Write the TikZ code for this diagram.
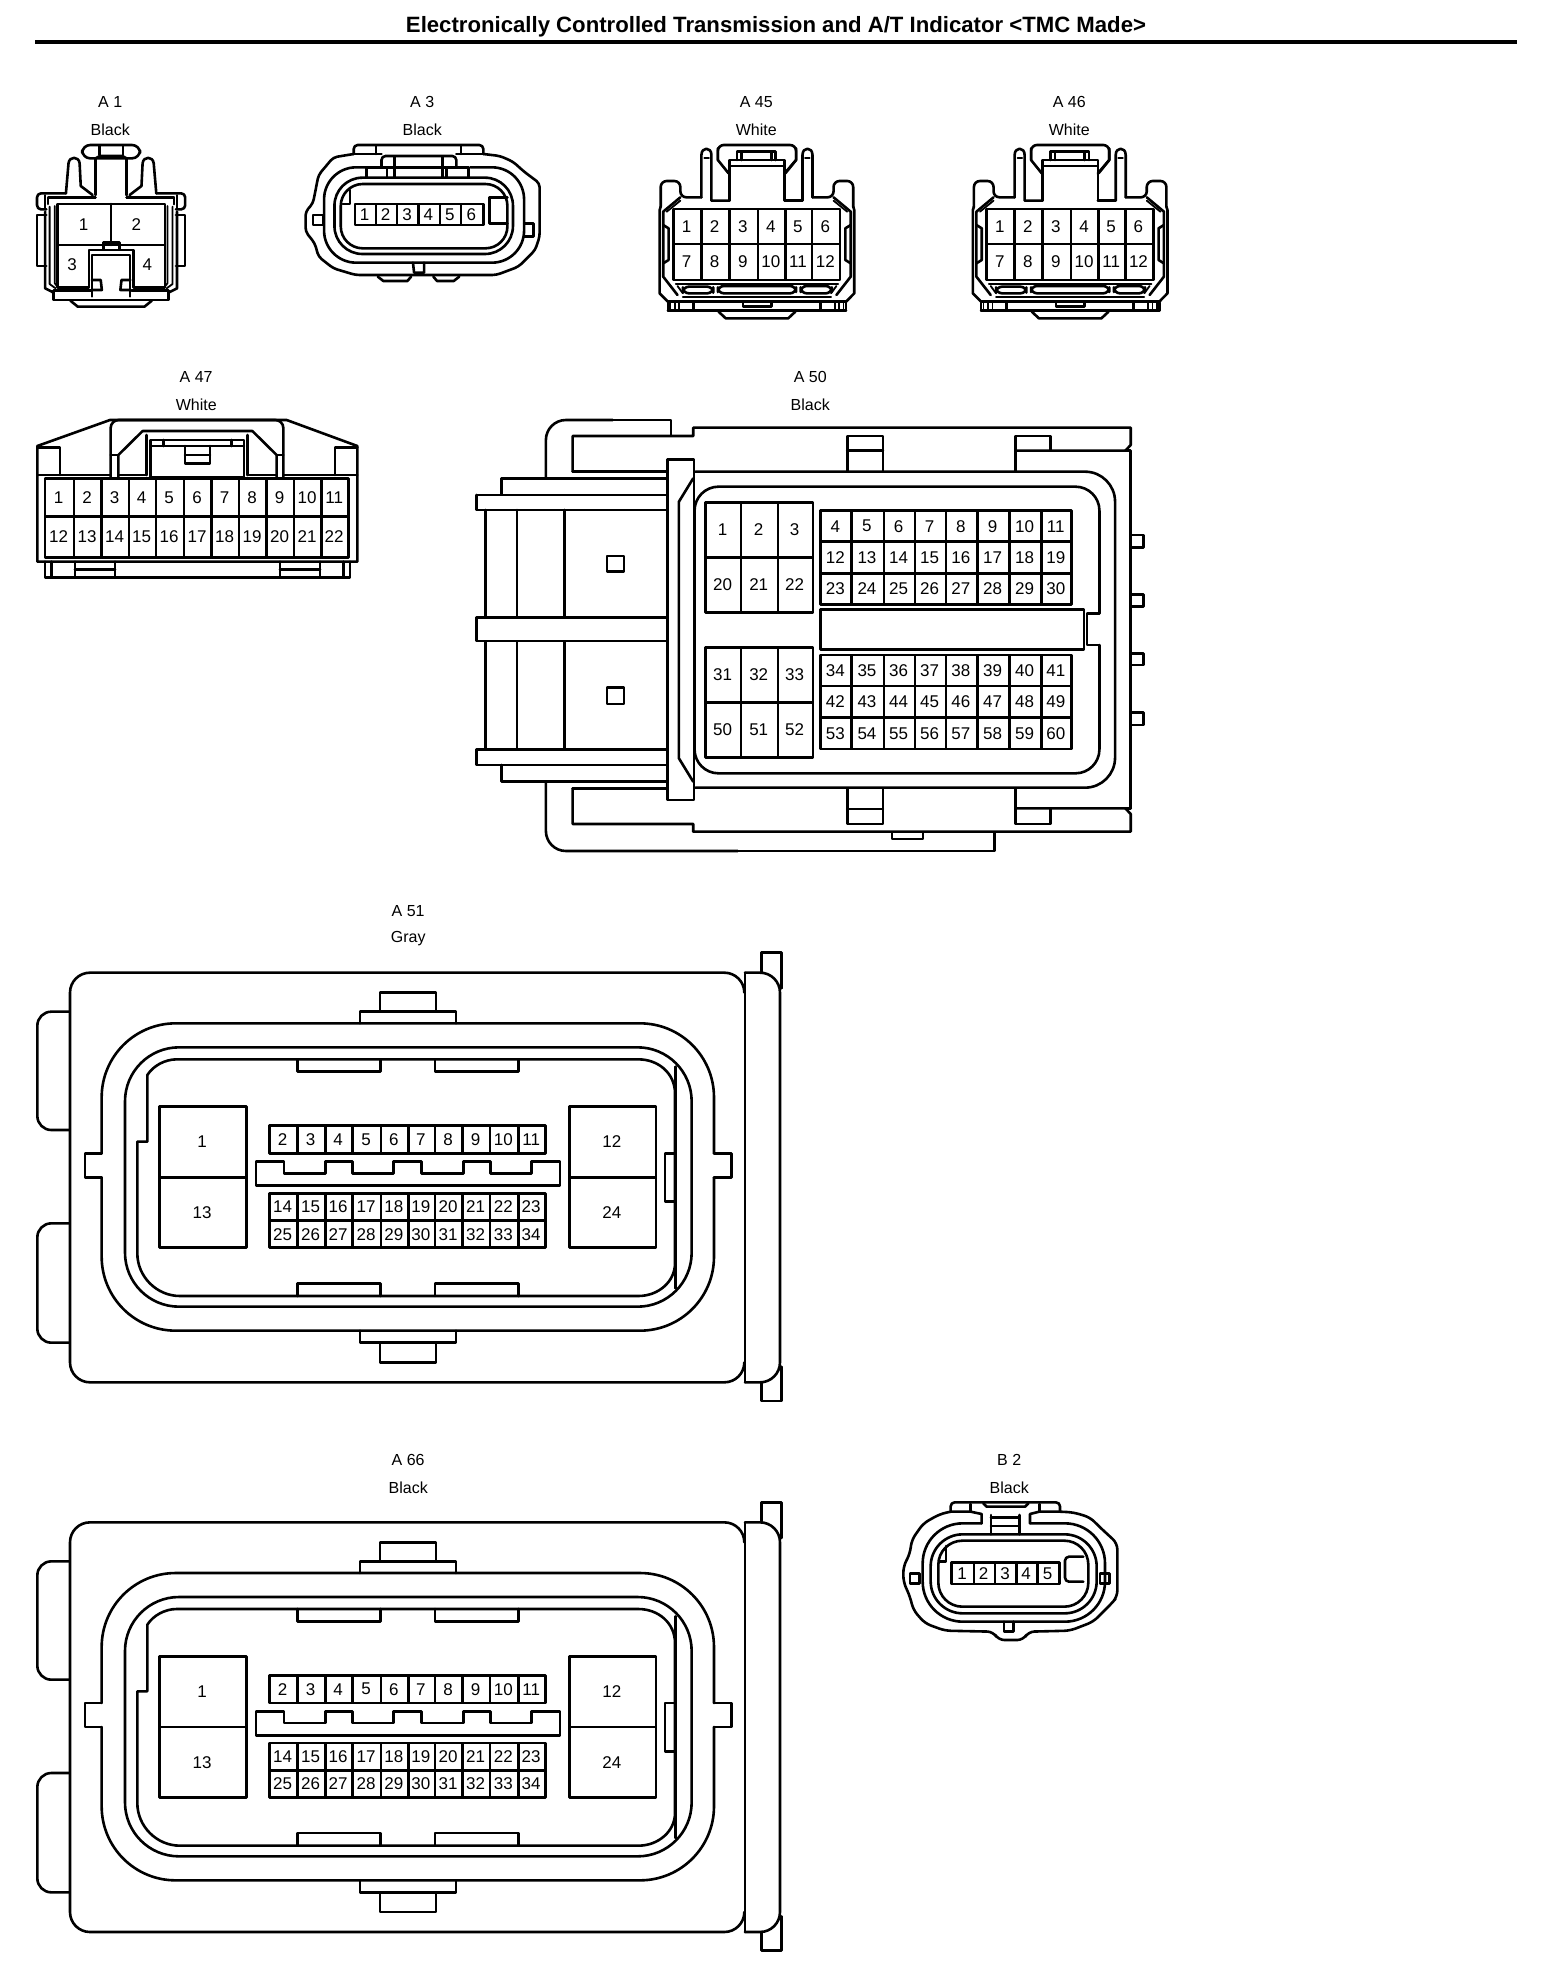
\documentclass[tikz,border=0pt]{standalone}
\usepackage{fontspec}
\setmainfont{Liberation Sans}
\newcommand\pinfont{\fontsize{8.5pt}{9pt}\selectfont}
\newcommand\labfont{\fontsize{8pt}{9pt}\selectfont}
\tikzset{
  ln/.style={line width=1.3pt,line cap=round,line join=round},
  thinln/.style={line width=0.9pt,line cap=round,line join=round},
  tn/.style={font=\pinfont,inner sep=0pt,xshift=-0.4pt},
  lab/.style={font=\labfont,inner sep=0pt,xshift=-0.4pt},
  titlelab/.style={font=\fontsize{11.08pt}{12pt}\selectfont\bfseries,inner sep=0pt}
}
% one row of pin cells: y1,y2,first x, list of right-edge/label
\newcommand\gridrow[4]{%
  \foreach \b/\t [remember=\b as \a (initially #3)] in {#4}{%
    \draw[ln] (\a,#1) rectangle (\b,#2);
    \node[tn] (\cn-\t) at ({(\a+\b)/2},{(#1+#2)/2}) {\t};
  }}
\newcommand\conlabel[5]{%
  \node[lab] (#1-name) at (#2,#3) {#4};
  \node[lab] (#1-color) at (#2,#3+27.7) {#5};}
% ---------- A1 half ----------
\newcommand\halfAone{%
  \draw[ln] (178,340)--(185,250) .. controls (187,228) and (213,228) .. (215,250)--(218,318)--(250,345);
  \draw[ln,rounded corners=2pt] (178,340)--(100,340)--(100,388)--(125,388);
  \draw[thinln] (122,345)--(122,388);
  \draw[ln] (258,352)--(130,352)--(130,372);
  \draw[ln] (258,345)--(258,235);
  \draw[ln] (125,405)--(100,405)--(100,558)--(125,558);
  \draw[ln] (122,395)--(122,625)--(145,638);
  \draw[thinln] (134,380)--(134,612)--(150,625);
  \draw[thinln] (148,378)--(148,610)--(155,620);
}
% ---------- A45 half ----------
\newcommand\halfAfortyfive{%
  \draw[ln] (172,352)--(172,225) .. controls (172,200) and (200,200) .. (200,225)--(200,362)--(250,362);
  \draw[thinln] (180,235)--(193,235);
  \draw[ln] (218,205)--(218,240)--(248,280);
  \draw[ln,rounded corners=3pt] (172,352)--(113,352)--(113,303)--(58,303)--(58,380);
  \draw[ln] (113,352)--(65,395)--(65,590)--(105,645);
  \draw[thinln] (113,362)--(75,395);
  \draw[ln] (58,380)--(55,390)--(55,640)--(78,665);
  \draw[ln] (65,435)--(80,445)--(80,540)--(65,550);
  \draw[thinln] (85,668)--(85,692);
  \draw[thinln] (97,668)--(97,692);
  \draw[thinln] (110,668)--(110,692);
  \draw[ln] (150,668)--(150,692);
  \draw[ln] (78,668)--(78,692);
  \draw[thinln] (105,618)--(120,640);
}
\newcommand\connAfortyfive{%
  \halfAfortyfive
  \begin{scope}[shift={(655,0)},xscale=-1]\halfAfortyfive\end{scope}
  \draw[ln,rounded corners=3pt] (218,240)--(218,195)--(437,195)--(437,240);
  \draw[ln] (437,240)--(405,280);
  \draw[ln] (250,362)--(250,240)--(405,240)--(405,362)--(455,362);
  \draw[ln] (250,258)--(405,258);
  \draw[ln] (272,240)--(272,215)--(380,215)--(380,240);
  \draw[ln] (285,215)--(285,240);
  \draw[ln] (368,215)--(368,240);
  \draw[ln] (78,665)--(577,665);
  \draw[ln] (78,692)--(577,692);
  \draw[ln] (288,668)--(288,680)--(368,680)--(368,668);
  \draw[ln] (220,695)--(240,715)--(415,715)--(435,695);
  \draw[thinln] (100,612)--(555,612);
  \draw[thinln] (120,650)--(535,650);
  \draw[ln,rounded corners=3pt] (120,620) rectangle (205,640);
  \draw[ln,rounded corners=3pt] (218,618) rectangle (437,640);
  \draw[ln,rounded corners=3pt] (450,618) rectangle (537,640);
  \gridrow{387}{492}{93}{172/1,250/2,330/3,407/4,482/5,560/6}
  \gridrow{492}{600}{93}{172/7,250/8,330/9,407/10,482/11,560/12}
}
% ---------- A51 / A66 ----------
\newcommand\connAfiftyone{%
  % body and end cap
  \draw[ln,rounded corners=10pt] (2173,270)--(2173,218)--(150,218)--(150,1447)--(2173,1447)--(2173,1395);
  \draw[ln] (2175,218)--(2175,1447);
  \draw[ln,rounded corners=10pt] (2175,218)--(2280,218)--(2280,1447)--(2175,1447);
  \draw[ln] (2225,215)--(2225,158)--(2285,158)--(2285,265);
  \draw[ln] (2225,1447)--(2225,1503)--(2285,1503)--(2285,1400);
  % side lugs
  \draw[ln,rounded corners=7pt] (148,335)--(52,335)--(52,690)--(148,690);
  \draw[ln,rounded corners=7pt] (148,970)--(52,970)--(52,1328)--(148,1328);
  % ring 1
  \draw[ln,rounded corners=37pt] (245,760)--(245,370)--(2082,370)--(2082,760);
  \draw[ln,rounded corners=37pt] (245,832)--(245,1292)--(2082,1292)--(2082,832);
  \draw[ln] (245,760)--(195,760)--(195,832)--(245,832);
  \draw[ln] (2082,760)--(2135,760)--(2135,832)--(2082,832);
  % ring 2
  \draw[ln,rounded corners=27pt] (315,442) rectangle (2015,1220);
  % ring 3 (cavity)
  \draw[ln] (382,725)--(382,525) .. controls (400,497) and (435,478) .. (470,478)--(1855,478) .. controls (1915,478) and (1965,520) .. (1965,580)--(1965,1090) .. controls (1965,1145) and (1915,1188) .. (1855,1188)--(480,1188) .. controls (410,1188) and (352,1130) .. (352,1060)--(352,725)--cycle;
  \draw[ln] (1967,500)--(1967,1165);
  \draw[ln] (1965,760)--(1935,760)--(1935,905)--(1965,905);
  % outer tabs
  \draw[ln] (1020,370)--(1020,335)--(1308,335)--(1308,370);
  \draw[ln] (1080,335)--(1080,278)--(1248,278)--(1248,335);
  \draw[ln] (1020,1292)--(1020,1328)--(1308,1328)--(1308,1292);
  \draw[ln] (1080,1328)--(1080,1387)--(1248,1387)--(1248,1328);
  % cavity tabs
  \draw[ln] (832,478)--(832,515)--(1082,515)--(1082,478);
  \draw[ln] (1245,478)--(1245,515)--(1495,515)--(1495,478);
  \draw[ln] (832,1188)--(832,1150)--(1082,1150)--(1082,1188);
  \draw[ln] (1245,1188)--(1245,1150)--(1495,1150)--(1495,1188);
  % big pins
  \gridrow{620}{832}{418}{680/1}
  \gridrow{832}{1043}{418}{680/13}
  \gridrow{620}{832}{1648}{1908/12}
  \gridrow{832}{1043}{1648}{1908/24}
  % small pins
  \gridrow{677}{760}{748}{832/2,916/3,998/4,1083/5,1165/6,1245/7,1328/8,1410/9,1495/10,1577/11}
  \gridrow{880}{962}{748}{832/14,916/15,998/16,1083/17,1165/18,1245/19,1328/20,1410/21,1495/22,1577/23}
  \gridrow{962}{1043}{748}{832/25,916/26,998/27,1083/28,1165/29,1245/30,1328/31,1410/32,1495/33,1577/34}
  % key strip
  \draw[ln] (708,785)--(792,785)--(792,820)--(916,820)--(916,785)--(998,785)--(998,820)--(1120,820)--(1120,785)--(1205,785)--(1205,820)--(1330,820)--(1330,785)--(1412,785)--(1412,820)--(1535,820)--(1535,785)--(1620,785)--(1620,857)--(708,857)--cycle;
}
\begin{document}
\begin{tikzpicture}[x=0.5pt,y=-0.5pt]
\useasboundingbox (0,0) rectangle (1568,1970);
\node[titlelab] (title) at (776,27) {Electronically Controlled Transmission and A/T Indicator <TMC Made>};
\coordinate (ruleL) at (35,42);
\coordinate (ruleR) at (1517,42);
\draw[line width=2pt] (ruleL)--(ruleR);

\conlabel{A1}{111}{102}{A 1}{Black}
\conlabel{A3}{423}{102}{A 3}{Black}
\conlabel{A45}{757}{102}{A 45}{White}
\conlabel{A46}{1070}{102}{A 46}{White}
\conlabel{A47}{197}{377}{A 47}{White}
\conlabel{A50}{811}{377}{A 50}{Black}
\conlabel{A51}{409}{911}{A 51}{Gray}
\conlabel{A66}{409}{1460}{A 66}{Black}
\conlabel{B2}{1010}{1460}{B 2}{Black}

% ===== A1 =====
\begin{scope}[shift={(0,80)},xscale=1/2.7,yscale=1/3]
\def\cn{A1}
\halfAone
\begin{scope}[shift={(600,0)},xscale=-1]\halfAone\end{scope}
\draw[ln,rounded corners=4pt] (222,195) rectangle (378,235);
\draw[ln] (268,197)--(268,225);
\draw[ln] (332,197)--(332,225);
\draw[ln] (342,352)--(470,352)--(470,372);
\draw[ln] (342,345)--(342,235)--(330,228)--(270,228)--(258,235);
\draw[ln] (155,372) rectangle (445,495);
\draw[ln] (300,372)--(300,495);
\node[tn] (A1-1) at (228,433) {1};
\node[tn] (A1-2) at (370,433) {2};
\draw[ln] (155,495)--(155,622)--(240,622)--(240,510)--(360,510)--(360,622)--(445,622)--(445,495);
\node[tn] (A1-3) at (197,553) {3};
\node[tn] (A1-4) at (400,553) {4};
\draw[ln] (280,487) rectangle (322,510);
\draw[thinln] (248,650)--(248,525)--(352,525)--(352,650);
\draw[ln] (248,600)--(272,600)--(275,630)--(248,630);
\draw[ln] (352,600)--(328,600)--(325,630)--(352,630);
\draw[ln] (145,632)--(145,660)--(455,660)--(455,632);
\draw[ln] (145,632)--(245,632);
\draw[ln] (355,632)--(455,632);
\draw[ln] (190,662)--(210,680)--(390,680)--(410,662);
\end{scope}

% ===== A3 =====
\begin{scope}[shift={(0,80)},xscale=1/2.7,yscale=1/3]
\def\cn{A3}
\draw[ln,rounded corners=2pt] (955,222)--(955,195)--(1305,195)--(1305,222);
\draw[ln] (1015,197)--(1015,222);
\draw[ln] (1245,197)--(1245,222);
\draw[ln,rounded corners=2pt] (955,222)--(900,232)--(860,285)--(845,370)--(825,395)--(825,455)--(850,490)--(860,530)--(900,565)--(960,585)--(1340,585)--(1400,560)--(1445,510)--(1457,470)--(1457,310)--(1415,275)--(1385,245)--(1350,228)--(1305,222);
\draw[ln] (955,222)--(1030,222);
\draw[ln] (1232,222)--(1305,222);
\draw[ln,rounded corners=16pt] (990,262)--(875,262)--(875,548)--(1415,548)--(1415,262)--(1270,262);
\draw[ln,rounded corners=14pt] (903,293) rectangle (1385,522);
\draw[ln,rounded corners=11pt] (920,312) rectangle (1370,505);
\draw[ln,rounded corners=2pt] (1030,262)--(1030,228)--(1232,228)--(1232,262);
\draw[ln] (990,262)--(1265,262);
\draw[ln] (990,262)--(990,293);
\draw[ln] (1265,262)--(1265,293);
\draw[ln] (1045,262)--(1045,293);
\draw[ln] (1205,262)--(1205,293);
\draw[ln] (1065,232)--(1065,293);
\draw[ln] (1195,232)--(1195,293);
\gridrow{372}{435}{958}{1015/1,1072/2,1130/3,1188/4,1245/5,1305/6}
\draw[ln] (1322,352)--(1322,430)--(1370,430);
\draw[ln] (1322,352)--(1370,352);
\draw[ln] (925,372)--(945,372)--(945,330);
\draw[ln] (845,405)--(872,405)--(872,435)--(845,435)--cycle;
\draw[ln] (1415,430)--(1440,430)--(1440,470)--(1415,470);
\draw[ln] (1115,548)--(1118,578)--(1145,578)--(1145,548);
\draw[ln] (1020,590)--(1035,603)--(1100,603)--(1110,590);
\draw[ln] (1170,590)--(1180,603)--(1225,603)--(1240,590);
\end{scope}

% ===== A45 / A46 =====
\begin{scope}[shift={(640,80)},xscale=1/2.8,yscale=1/3]
\def\cn{A45}
\connAfortyfive
\end{scope}
\begin{scope}[shift={(953.2,80)},xscale=1/2.8,yscale=1/3]
\def\cn{A46}
\connAfortyfive
\end{scope}

% ===== A47 =====
\begin{scope}[shift={(20,360)},scale=1/3]
\def\cn{A47}
\draw[ln] (52,258)--(270,180)--(800,180)--(1012,258)--(1012,605)--(52,605)--cycle;
\draw[ln,rounded corners=4pt] (272,352)--(272,180)--(790,180)--(790,352);
\draw[ln] (295,352)--(295,285)--(368,213)--(697,213)--(770,285)--(770,352);
\draw[ln] (272,285)--(295,285);
\draw[ln] (770,285)--(790,285);
\draw[ln] (380,225)--(380,345);
\draw[ln] (682,225)--(682,345);
\draw[ln] (392,240) rectangle (672,352);
\draw[ln] (392,258)--(672,258);
\draw[ln] (430,240)--(430,258);
\draw[ln] (635,240)--(635,258);
\draw[ln] (495,258)--(495,310)--(570,310)--(570,258);
\draw[ln] (495,285)--(570,285);
\draw[ln] (52,345)--(272,345);
\draw[ln] (295,345)--(380,345);
\draw[ln] (682,345)--(770,345);
\draw[ln] (790,345)--(1012,345);
\draw[ln] (52,262)--(120,262)--(120,345);
\draw[ln] (1012,262)--(945,262)--(945,345);
\gridrow{355}{470}{75}{162/1,245/2,327/3,408/4,492/5,575/6,657/7,740/8,822/9,905/10,985/11}
\gridrow{470}{592}{75}{162/12,245/13,327/14,408/15,492/16,575/17,657/18,740/19,822/20,905/21,985/22}
\draw[ln] (75,605)--(75,652)--(990,652)--(990,605);
\draw[ln] (95,605)--(95,652);
\draw[ln] (970,605)--(970,652);
\draw[ln] (165,605)--(165,652);
\draw[ln] (285,605)--(285,652);
\draw[ln] (165,628)--(285,628);
\draw[ln] (780,605)--(780,652);
\draw[ln] (900,605)--(900,652);
\draw[ln] (780,628)--(900,628);
\end{scope}

% ===== A50 =====
\begin{scope}[shift={(470,360)},xscale=1/2.24,yscale=1/3]
\def\cn{A50}
\draw[ln,rounded corners=10pt] (170,352)--(170,180)--(320,180);
\draw[ln] (320,180)--(450,180)--(450,225);
\draw[ln] (230,335)--(230,228)--(500,228)--(500,203)--(1480,203)--(1480,255)--(1468,272)--(1222,272);
\draw[ln] (1468,272)--(1480,272)--(1480,1345);
\draw[ln] (845,332)--(845,228)--(925,228)--(925,332);
\draw[ln] (845,272)--(925,272);
\draw[ln] (1222,332)--(1222,228)--(1300,228)--(1300,272);
% bottom
\draw[ln,rounded corners=10pt] (170,1268)--(170,1473)--(600,1473);
\draw[ln] (600,1473)--(1175,1473)--(1175,1417);
\draw[ln] (230,1285)--(230,1392)--(500,1392)--(500,1415)--(1480,1415)--(1480,1362)--(1468,1345)--(1222,1345);
\draw[ln] (1468,1345)--(1480,1345);
\draw[ln] (845,1287)--(845,1392)--(925,1392)--(925,1287);
\draw[ln] (845,1347)--(925,1347);
\draw[ln] (1222,1287)--(1222,1392)--(1300,1392)--(1300,1347);
\draw[ln] (945,1417)--(945,1437)--(1015,1437)--(1015,1417);
% main housing
\draw[ln,rounded corners=15pt] (505,335)--(1445,335)--(1445,1283)--(505,1283);
\draw[ln] (500,355)--(468,425)--(468,1195)--(500,1265);
\draw[ln] (442,298) rectangle (502,1320);
% left arms
\draw[ln] (70,402)--(70,355)--(440,355);
\draw[ln] (230,335)--(440,335);
\draw[ln] (15,405)--(15,450)--(440,450);
\draw[ln] (15,405)--(440,405);
\foreach \vx in {35,105,212}{\draw[ln] (\vx,450)--(\vx,772);\draw[ln] (\vx,845)--(\vx,1168);}
\draw[ln] (15,772)--(440,772);
\draw[ln] (15,772)--(15,843)--(440,843);
\draw[ln] (15,1168)--(440,1168);
\draw[ln] (15,1168)--(15,1215)--(440,1215);
\draw[ln] (70,1215)--(70,1265)--(440,1265);
\draw[ln] (230,1285)--(440,1285);
% cavity
\draw[ln,rounded corners=12pt] (1410,760)--(1410,380)--(503,380)--(503,1240)--(1410,1240)--(1410,855);
\draw[ln] (1410,760)--(1382,760)--(1382,855)--(1410,855);
% squares and lugs
\draw[ln] (307,588) rectangle (345,635);
\draw[ln] (307,982) rectangle (345,1032);
\draw[ln] (1480,525) rectangle (1508,563);
\draw[ln] (1480,703) rectangle (1508,740);
\draw[ln] (1480,880) rectangle (1508,915);
\draw[ln] (1480,1058) rectangle (1508,1095);
% pins
\gridrow{428}{592}{528}{607/1,690/2,768/3}
\gridrow{592}{757}{528}{607/20,690/21,768/22}
\gridrow{862}{1027}{528}{607/31,690/32,768/33}
\gridrow{1027}{1192}{528}{607/50,690/51,768/52}
\gridrow{452}{545}{785}{855/4,927/5,997/6,1066/7,1137/8,1208/9,1280/10,1348/11}
\gridrow{545}{640}{785}{855/12,927/13,997/14,1066/15,1137/16,1208/17,1280/18,1348/19}
\gridrow{640}{733}{785}{855/23,927/24,997/25,1066/26,1137/27,1208/28,1280/29,1348/30}
\draw[ln] (785,748) rectangle (1375,868);
\gridrow{885}{978}{785}{855/34,927/35,997/36,1066/37,1137/38,1208/39,1280/40,1348/41}
\gridrow{978}{1073}{785}{855/42,927/43,997/44,1066/45,1137/46,1208/47,1280/48,1348/49}
\gridrow{1073}{1167}{785}{855/53,927/54,997/55,1066/56,1137/57,1208/58,1280/59,1348/60}
\end{scope}

% ===== A51 =====
\begin{scope}[shift={(20,900)},scale=1/3]
\def\cn{A51}
\connAfiftyone
\end{scope}
% ===== A66 =====
\begin{scope}[shift={(20,1449.67)},scale=1/3]
\def\cn{A66}
\connAfiftyone
\end{scope}

% ===== B2 =====
\begin{scope}[shift={(880,1440)},scale=1/3]
\def\cn{B2}
\draw[ln,rounded corners=2pt] (212,215)--(212,187)--(540,187)--(540,215);
\draw[ln] (272,192)--(272,215);
\draw[ln] (478,192)--(478,215);
\draw[ln] (310,190)--(320,200)--(435,200)--(445,190);
\draw[ln,rounded corners=3pt] (212,215)--(180,222)--(130,250)--(95,300)--(90,340)--(70,380)--(70,425)--(90,470)--(100,510)--(135,550)--(195,572)--(340,575)--(355,600)--(430,600)--(445,575)--(570,572)--(640,545)--(695,490)--(712,470)--(712,310)--(660,262)--(630,232)--(580,217)--(540,215);
\draw[ln] (212,215)--(272,215)--(305,222)--(305,250);
\draw[ln] (540,215)--(478,215)--(450,222)--(450,250);
\draw[ln,rounded corners=20pt] (305,250)--(128,250)--(128,545)--(675,545)--(675,250)--(450,250);
\draw[ln,rounded corners=16pt] (152,283) rectangle (650,520);
\draw[ln,rounded corners=12pt] (175,302) rectangle (625,500);
\draw[ln] (333,225)--(333,283);
\draw[ln] (418,225)--(418,283);
\draw[ln] (333,232)--(418,232);
\draw[ln] (333,258)--(418,258);
\gridrow{368}{432}{215}{282/1,345/2,410/3,472/4,538/5}
\draw[ln,rounded corners=2pt] (610,425)--(555,425)--(555,350)--(610,350);
\draw[ln] (178,365)--(198,365)--(198,318);
\draw[ln] (90,400)--(118,400)--(118,430)--(90,430)--cycle;
\draw[ln] (660,400)--(688,400)--(688,430)--(660,430)--cycle;
\draw[ln] (372,545)--(372,575)--(400,575)--(400,545);
\end{scope}
\end{tikzpicture}
\end{document}
